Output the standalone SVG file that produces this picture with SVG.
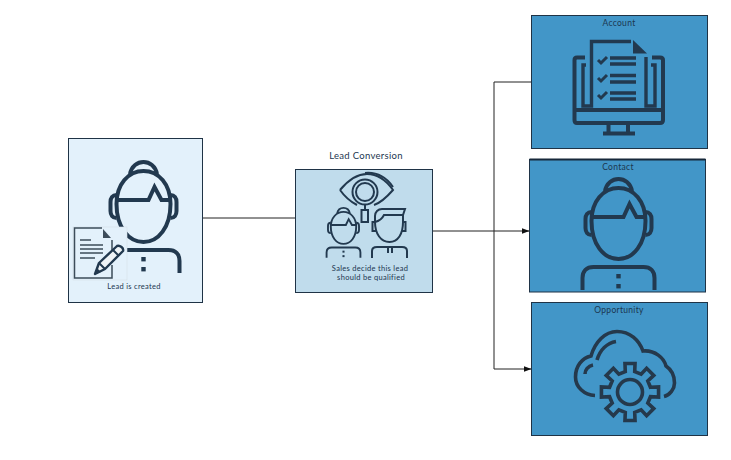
<svg xmlns="http://www.w3.org/2000/svg" width="731" height="460" viewBox="0 0 731 460">
<style>
.lbl{font-family:"Lato","Noto Sans",sans-serif;text-anchor:middle;letter-spacing:.3px}
.dark{fill:#1c3650}
.box{stroke:#1f3346;stroke-width:1}
.bb{fill:#4296c8}
.ic{fill:none;stroke:#22394f;stroke-width:4;stroke-linejoin:miter}
.thin{fill:none;stroke:#22394f;stroke-width:2}
.conn{fill:none;stroke:#222;stroke-width:1}
</style>
<defs>
<marker id="arr" markerUnits="userSpaceOnUse" markerWidth="8" markerHeight="6" refX="7.500" refY="3" orient="auto"><path d="M0 0L8 3L0 6Z" fill="#111"/></marker>
<g id="person" fill="none">
<path d="M-13.500 14C-12 6-6 2 0 2C6 2 12 6 13.500 14"/>
<path d="M-27 44C-27 24-15 11 0 11C15 11 27 24 27 44C27 67 15 82 0 82C-15 82-27 67-27 44Z"/>
<path d="M-27 40H5L11 27L18 40H27"/>
<path d="M-27 35C-31 35-33 38-33 42V51C-33 55-31 58-27 58"/>
<path d="M27 35C31 35 33 38 33 42V51C33 55 31 58 27 58"/>
<path d="M-36 113V101C-36 94-32 90-25 90H25C32 90 36 94 36 101V113"/>
<rect x="-2.200" y="97" width="4.400" height="4.400" fill="#22394f" stroke="none"/>
<rect x="-2.200" y="107" width="4.400" height="4.400" fill="#22394f" stroke="none"/>
</g>
</defs>
<rect width="731" height="460" fill="#fff"/>
<g id="connectors">
<path class="conn" d="M202 218H295"/>
<path class="conn" d="M433 231H529" marker-end="url(#arr)"/>
<path class="conn" d="M531 82H494V369H531" marker-end="url(#arr)"/>
</g>
<g id="lead">
<rect class="box" x="68.500" y="138.500" width="134" height="164" fill="#e3f1fb"/>
<use href="#person" class="ic" transform="translate(143.500,160)"/>
<rect x="73" y="227" width="54" height="53" fill="#e3f1fb" stroke="#d5dfe6" stroke-width=".6"/>
<path d="M102 228H74.500V278H112V265M112 250V240" fill="none" stroke="#3c4c5a" stroke-width="1.500"/>
<path d="M103 229L111 238H103Z" fill="#3c4c5a"/>
<path d="M80 240H91M80 245H103M80 249H103M80 253H103M80 258H95" fill="none" stroke="#3c4c5a" stroke-width="1.500"/>
<path d="M95 274L99 263L117 246C120 245 124 248 123 251L105 269Z" fill="#eef3f6" stroke="#22394f" stroke-width="2.400" stroke-linejoin="round"/>
<path d="M95 274L101 272L97 268Z" fill="#22394f"/>
<path d="M99 263L105 269M113 250L119 256" fill="none" stroke="#22394f" stroke-width="2"/>
<text class="lbl dark" x="134" y="289" font-size="7.500">Lead is created</text>
</g>
<g id="conversion">
<text class="lbl dark" x="366" y="158.500" font-size="9.500">Lead Conversion</text>
<rect class="box" x="295.500" y="169.500" width="137" height="123" fill="#c0dcec"/>
<path class="thin" d="M340 190C350 178 360 174 367 174C377 174 386 180 393 190C386 198 380 203 374 205M340 190C345 197 351 202 357 205"/>
<path class="thin" d="M365 173C376 172 386 177 393 187"/>
<circle class="thin" cx="365" cy="192" r="12.500"/>
<circle class="thin" cx="365" cy="192" r="9"/>
<rect class="thin" x="361.500" y="210" width="6.500" height="12"/>
<path class="thin" d="M365 204.500V210"/>
<use href="#person" class="ic" transform="translate(343.500,207) scale(.47,.45)"/>
<path class="thin" d="M372 258V251C372 248 374 247 377 247H402C405 247 407 248 407 251V258"/>
<path class="thin" d="M388 248V253M392 248V253"/>
<path class="thin" d="M375 222C375 234 381 242 389.500 242C398 242 403 234 403 222V215M375 222V216C375 212 378 209 382 209H405L403 215H384C382 219 379 221 375 222Z"/>
<path class="thin" d="M375 222H372.500V231H376M403 222H405.500V231H402"/>
<text class="lbl dark" x="370" y="271" font-size="7.500">Sales decide this lead</text>
<text class="lbl dark" x="371" y="280" font-size="7.500">should be qualified</text>
</g>
<g id="account">
<rect class="box bb" x="531.500" y="15.500" width="176" height="133"/>
<text class="lbl dark" x="619" y="26" font-size="8.500">Account</text>
<path class="ic" d="M585 57.500H577C575.500 57.500 574.500 58.500 574.500 60V120C574.500 122 575.500 123 577 123H660C662 123 663 122 663 120V60C663 58.500 662 57.500 660 57.500H652"/>
<path class="ic" d="M575 110H663M608.500 123V133M628 123V133M603 133.500H635"/>
<path class="ic" style="stroke-width:3.400" d="M586 65H583V106H591.500V41.500H631M646 57V106H655V65H651"/>
<path d="M633 40L647 53.500H633Z" fill="#22394f"/>
<path class="ic" style="stroke-width:3.400" d="M610 58H636M610 64H636M610 75.500H636M610 82H636M610 93H636M610 99H636"/>
<path class="ic" style="stroke-width:3" d="M598 60L601 63L607 57M598 78L601 81L607 75M598 95L601 98L607 92"/>
</g>
<g id="contact">
<rect class="box bb" x="529.500" y="159.500" width="176" height="132.500"/>
<path d="M529.500 159.500H705.500" stroke="#17283a" stroke-width="2"/>
<text class="lbl dark" x="618" y="170" font-size="8.500">Contact</text>
<use href="#person" class="ic" transform="translate(618.500,177)"/>
</g>
<g id="opportunity">
<rect class="box bb" x="531.500" y="302.500" width="176" height="133"/>
<text class="lbl dark" x="619" y="313" font-size="8.500">Opportunity</text>
<g fill="none" stroke="#25394c" stroke-width="3.600" stroke-linejoin="miter">
<path d="M595 395.500C584 395 575.500 387 575.500 377C575.500 366 582 358 591 356C595 342 605 331.500 617 331.500C630 331.500 639 340 643 351C655 350 664 358 666 366C672 370 674.500 376 674.500 383C674.500 389 670 395 664 396.500"/>
<path d="M597 360C600 350 607 343 616 341.500"/>
<path d="M585 374C585 370 588 366 593 365"/>
<path transform="translate(630,392)" d="M20.460-4.720L28.560-5.040V5.040L20.460 4.720L17.800 11.130L23.760 16.630L16.630 23.760L11.130 17.800L4.720 20.460L5.040 28.560H-5.040L-4.720 20.460L-11.130 17.800L-16.630 23.760L-23.760 16.630L-17.800 11.130L-20.460 4.720L-28.560 5.040V-5.040L-20.460-4.720L-17.800-11.130L-23.760-16.630L-16.630-23.760L-11.130-17.800L-4.720-20.460L-5.040-28.560H5.040L4.720-20.460L11.130-17.800L16.630-23.760L23.760-16.630L17.800-11.130Z"/>
<circle cx="630" cy="392" r="12.500"/>
</g>
</g>
</svg>
